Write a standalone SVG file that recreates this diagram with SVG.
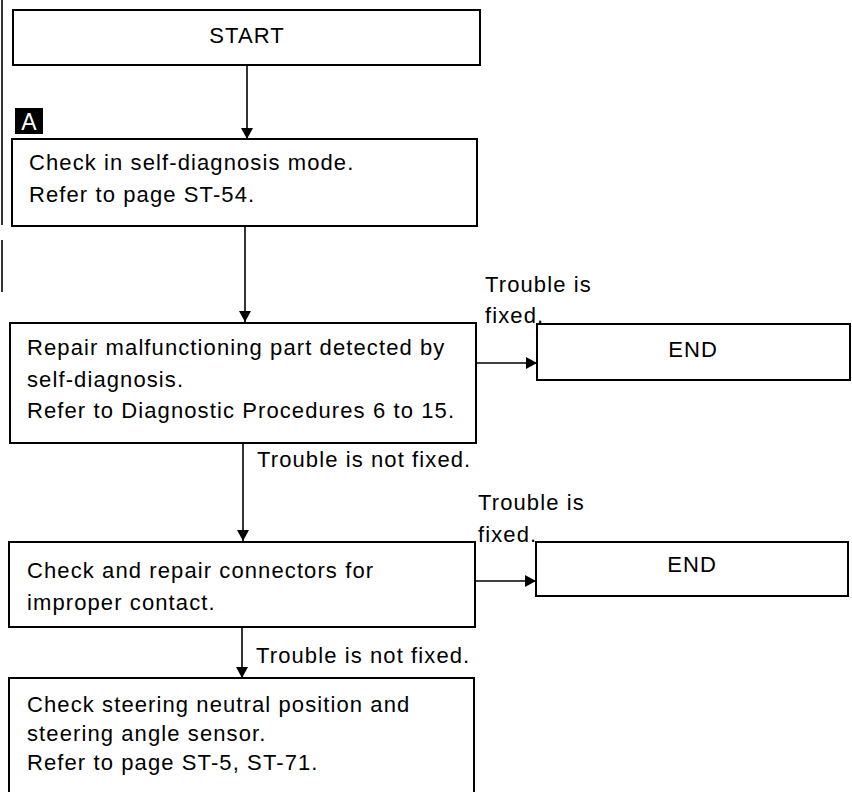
<svg xmlns="http://www.w3.org/2000/svg" width="852" height="792" viewBox="0 0 852 792">
<style>
.box{fill:#fff;stroke:#000;stroke-width:2}
.t{font-family:"Liberation Sans",Arial,sans-serif;font-size:22px;letter-spacing:1.1px;fill:#000}
.c{text-anchor:middle}
.ln{stroke:#000;stroke-width:1.6;fill:none}
</style>
<defs>
<marker id="ah" markerWidth="12" markerHeight="12" refX="11" refY="6" orient="auto" markerUnits="userSpaceOnUse">
<path d="M0,0 L11,6 L0,12 Z" fill="#000"/>
</marker>
</defs>
<rect width="852" height="792" fill="#fff"/>
<g id="edge-marks">
<line x1="2" y1="0" x2="2" y2="225" class="ln"/>
<line x1="2" y1="240" x2="2" y2="292" class="ln"/>
</g>
<g id="connectors">
<line x1="247" y1="65" x2="247" y2="139" class="ln" marker-end="url(#ah)"/>
<line x1="245" y1="226" x2="245" y2="322" class="ln" marker-end="url(#ah)"/>
<line x1="243" y1="443" x2="243" y2="541" class="ln" marker-end="url(#ah)"/>
<line x1="242" y1="627" x2="242" y2="678" class="ln" marker-end="url(#ah)"/>
<line x1="476" y1="363" x2="537" y2="363" class="ln" marker-end="url(#ah)"/>
<line x1="474" y1="581" x2="536" y2="581" class="ln" marker-end="url(#ah)"/>
<text class="t" x="485" y="292">Trouble is</text>
<text class="t" x="485" y="323">fixed.</text>
<text class="t" x="257" y="467">Trouble is not fixed.</text>
<text class="t" x="478" y="510">Trouble is</text>
<text class="t" x="478" y="542">fixed.</text>
<text class="t" x="256" y="663">Trouble is not fixed.</text>
</g>
<g id="start">
<rect class="box" x="13" y="10" width="467" height="55"/>
<text class="t c" x="247" y="43">START</text>
</g>
<g id="label-a">
<rect x="15" y="108" width="28" height="26" fill="#000"/>
<text x="29" y="130" font-family="Liberation Sans,Arial,sans-serif" font-size="23" fill="#fff" text-anchor="middle">A</text>
</g>
<g id="check-self-diag">
<rect class="box" x="12" y="139" width="465" height="87"/>
<text class="t" x="29" y="170">Check in self-diagnosis mode.</text>
<text class="t" x="29" y="202">Refer to page ST-54.</text>
</g>
<g id="repair">
<rect class="box" x="10" y="323" width="466" height="120"/>
<text class="t" x="27" y="355">Repair malfunctioning part detected by</text>
<text class="t" x="27" y="387">self-diagnosis.</text>
<text class="t" x="27" y="418">Refer to Diagnostic Procedures 6 to 15.</text>
</g>
<g id="end1">
<rect class="box" x="537" y="324" width="313" height="56"/>
<text class="t c" x="693" y="357">END</text>
</g>
<g id="connectors-check">
<rect class="box" x="9" y="542" width="466" height="85"/>
<text class="t" x="27" y="578">Check and repair connectors for</text>
<text class="t" x="27" y="610">improper contact.</text>
</g>
<g id="end2">
<rect class="box" x="536" y="542" width="312" height="54"/>
<text class="t c" x="692" y="572">END</text>
</g>
<g id="steering">
<rect class="box" x="9" y="678" width="465" height="120"/>
<text class="t" x="27" y="712">Check steering neutral position and</text>
<text class="t" x="27" y="741">steering angle sensor.</text>
<text class="t" x="27" y="770">Refer to page ST-5, ST-71.</text>
</g>
</svg>
